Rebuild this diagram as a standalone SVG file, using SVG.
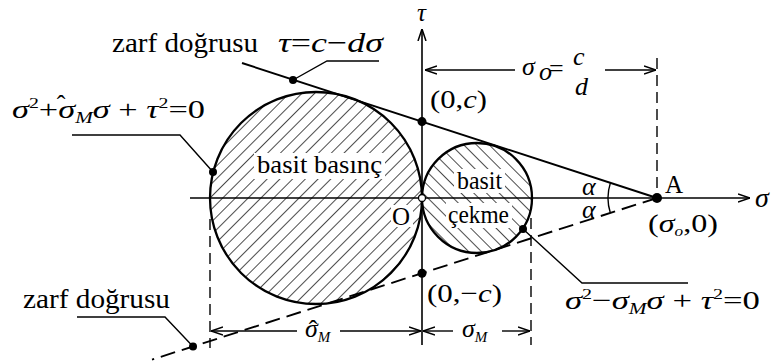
<svg xmlns="http://www.w3.org/2000/svg" width="773" height="361" viewBox="0 0 773 361">
<style>
.ln{stroke:#000;stroke-width:1.9;fill:none}
.thin{stroke:#000;stroke-width:1.4;fill:none}
.dash{stroke-dasharray:15 7}
.vd{stroke-dasharray:11 6}
.dot{fill:#000}
text{font-family:"Times New Roman","Liberation Serif",serif;fill:#000;font-size:26px}
.i{font-style:italic}
.lbl{font-size:25px}
.big{font-size:28px}
.bg{fill:#fff;stroke:none}
</style>
<defs>
<marker id="arr" viewBox="0 0 12 10" refX="12" refY="5" markerWidth="12" markerHeight="10" orient="auto" markerUnits="userSpaceOnUse">
<path d="M0,1 L12,5 L0,9" fill="none" stroke="#000" stroke-width="1.5"/>
</marker>
<pattern id="h1" patternUnits="userSpaceOnUse" width="9" height="9" patternTransform="rotate(45)">
<line x1="0" y1="0" x2="0" y2="9" stroke="#000" stroke-width="1.4"/>
</pattern>
<pattern id="h2" patternUnits="userSpaceOnUse" width="9" height="9" patternTransform="rotate(-45)">
<line x1="0" y1="0" x2="0" y2="9" stroke="#000" stroke-width="1.4"/>
</pattern>
</defs>
<rect width="773" height="361" fill="#fff"/>

<g id="circle-basinc">
<circle cx="316" cy="198" r="106" fill="url(#h1)" stroke="#000" stroke-width="2.3"/>
<rect class="bg" x="254" y="153" width="131" height="26"/>
<text x="257" y="173" textLength="125" lengthAdjust="spacingAndGlyphs">basit basınç</text>
</g>

<g id="circle-cekme">
<circle cx="477" cy="198" r="55" fill="url(#h2)" stroke="#000" stroke-width="2.3"/>
<rect class="bg" x="454" y="169" width="51" height="24"/>
<text x="457" y="189" textLength="45" lengthAdjust="spacingAndGlyphs">basit</text>
<rect class="bg" x="446" y="203" width="66" height="25"/>
<text x="448" y="223" textLength="61" lengthAdjust="spacingAndGlyphs">çekme</text>
</g>

<g id="connectors">
<line x1="190" y1="198" x2="750" y2="198" stroke="#000" stroke-width="1.6" marker-end="url(#arr)"/>
<line x1="422" y1="345" x2="422" y2="29" stroke="#000" stroke-width="1.6" marker-end="url(#arr)"/>
<line class="ln" x1="242" y1="63" x2="657" y2="198"/>
<line class="ln dash" x1="657" y1="198" x2="152" y2="359.6"/>
<line class="thin vd" x1="657" y1="58" x2="657" y2="192"/>
<line class="thin vd" x1="210" y1="219" x2="210" y2="348"/>
<line class="thin vd" x1="531" y1="218" x2="531" y2="345"/>
<line class="thin" x1="515" y1="70" x2="425" y2="70" marker-end="url(#arr)"/>
<line class="thin" x1="605" y1="70" x2="656" y2="70" marker-end="url(#arr)"/>
<line class="thin" x1="297" y1="331" x2="211" y2="331" marker-end="url(#arr)"/>
<line class="thin" x1="340" y1="331" x2="421" y2="331" marker-end="url(#arr)"/>
<line class="thin" x1="453" y1="331" x2="423" y2="331" marker-end="url(#arr)"/>
<line class="thin" x1="502" y1="331" x2="530" y2="331" marker-end="url(#arr)"/>
<polyline class="thin" points="293,80 327,61 379,61"/>
<polyline class="thin" points="213,172 180,135 72,135"/>
<polyline class="thin" points="193,346.5 165,317 77,317"/>
<polyline class="thin" points="523,229 582,283 688,283"/>
<path class="thin" d="M610.4,182.9 A49,49 0 0 0 610.4,213.1"/>
</g>

<g id="points">
<circle class="dot" cx="293" cy="80" r="4"/>
<circle class="dot" cx="213" cy="172" r="4"/>
<circle class="dot" cx="422" cy="121.6" r="4.5"/>
<circle class="dot" cx="657" cy="198" r="5"/>
<circle class="dot" cx="523" cy="229" r="4"/>
<circle class="dot" cx="422" cy="273.2" r="4.5"/>
<circle class="dot" cx="193" cy="346.5" r="4"/>
<circle cx="422" cy="198" r="3.5" fill="#fff" stroke="#000" stroke-width="1.3"/>
</g>

<g id="origin">
<rect class="bg" x="391" y="205" width="22" height="22"/>
<text x="392" y="225" class="lbl">O</text>
</g>

<g id="labels">
<text x="417" y="21" class="i lbl">τ</text>
<text x="755" y="207" class="i big">σ</text>
<text x="112" y="52" class="big" textLength="146" lengthAdjust="spacingAndGlyphs">zarf doğrusu</text>
<text x="278" y="52" class="big" textLength="105" lengthAdjust="spacingAndGlyphs"><tspan class="i">τ</tspan>=<tspan class="i">c</tspan>−<tspan class="i">dσ</tspan></text>
<text x="12" y="118" textLength="193" lengthAdjust="spacingAndGlyphs"><tspan class="i">σ</tspan><tspan dy="-10" font-size="15">2</tspan><tspan dy="10">+</tspan><tspan class="i">σ</tspan><tspan class="i" font-size="16" dy="5">M</tspan><tspan class="i" dy="-5">σ</tspan> + <tspan class="i">τ</tspan><tspan dy="-10" font-size="15">2</tspan><tspan dy="10">=0</tspan></text>
<text x="61" y="113" font-size="22" text-anchor="middle">ˆ</text>
<text x="430" y="108" textLength="57" lengthAdjust="spacingAndGlyphs">(0,<tspan class="i">c</tspan>)</text>
<text x="522" y="75" class="i">σ</text>
<text x="539" y="80" class="i" font-size="15">o</text>
<text x="549" y="77">=</text>
<text x="573" y="65" class="i">c</text>
<text x="575" y="95" class="i">d</text>
<text x="582" y="195" class="i" font-size="22">α</text>
<text x="582" y="218" class="i" font-size="22">α</text>
<text x="665" y="193" class="lbl">A</text>
<text x="648" y="232" textLength="70" lengthAdjust="spacingAndGlyphs">(<tspan class="i">σ</tspan><tspan class="i" font-size="14" dy="4">o</tspan><tspan dy="-4">,0)</tspan></text>
<text x="427" y="302" textLength="75" lengthAdjust="spacingAndGlyphs">(0,−<tspan class="i">c</tspan>)</text>
<text x="23" y="308" class="big" textLength="147" lengthAdjust="spacingAndGlyphs">zarf doğrusu</text>
<text x="565" y="309" textLength="195" lengthAdjust="spacingAndGlyphs"><tspan class="i">σ</tspan><tspan dy="-10" font-size="15">2</tspan><tspan dy="10">−</tspan><tspan class="i">σ</tspan><tspan class="i" font-size="16" dy="5">M</tspan><tspan class="i" dy="-5">σ</tspan> + <tspan class="i">τ</tspan><tspan dy="-10" font-size="15">2</tspan><tspan dy="10">=0</tspan></text>
<text x="305" y="337" class="i" font-size="24">σ<tspan font-size="15" dy="5">M</tspan></text>
<text x="313" y="338" font-size="22" text-anchor="middle">ˆ</text>
<text x="462" y="337" class="i" font-size="24">σ<tspan font-size="15" dy="5">M</tspan></text>
</g>
</svg>
